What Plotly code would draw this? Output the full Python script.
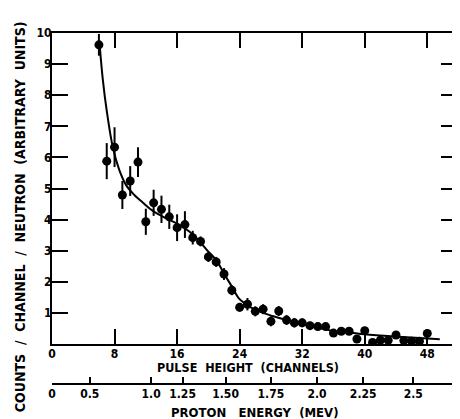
import plotly.graph_objects as go

# Measured data points (pulse height channel, counts/channel/neutron)
channels = list(range(6, 49))
counts = [9.62, 5.88, 6.33, 4.79, 5.24, 5.85, 3.93, 4.54, 4.33, 4.09,
          3.74, 3.84, 3.42, 3.30, 2.80, 2.64, 2.25, 1.73, 1.18, 1.28,
          1.05, 1.12, 0.73, 1.06, 0.77, 0.68, 0.68, 0.59, 0.56, 0.56,
          0.35, 0.41, 0.41, 0.16, 0.43, 0.05, 0.12, 0.12, 0.29, 0.11,
          0.09, 0.09, 0.34]
errors = [0.35, 0.58, 0.64, 0.45, 0.48, 0.48, 0.42, 0.42, 0.44, 0.39,
          0.43, 0.43, 0.22, 0.16, 0.16, 0.16, 0.19, 0.16, 0.14, 0.20,
          0.16, 0.16, 0.16, 0.16, 0.16, 0.15, 0.14, 0.12, 0.12, 0.12,
          0.12, 0.12, 0.12, 0.12, 0.12, 0.12, 0.12, 0.12, 0.12, 0.12,
          0.12, 0.12, 0.12]

# Smooth fitted curve
curve_x = [6.1, 6.5, 7.0, 7.8, 8.6, 9.5, 10.5, 11.6, 12.9, 14.6, 16.3, 17.6,
           18.8, 20.0, 21.0, 22.2, 23.0, 23.9, 24.8, 25.6, 27.0, 28.2, 30.0,
           31.6, 33.5, 35.8, 38.0, 40.0, 42.0, 44.3, 47.0, 49.6]
curve_y = [9.6, 8.5, 7.5, 6.3, 5.6, 5.1, 4.8, 4.55, 4.28, 4.04, 3.83, 3.61,
           3.32, 2.97, 2.70, 2.18, 1.85, 1.47, 1.28, 1.15, 1.0, 0.90, 0.77,
           0.67, 0.55, 0.43, 0.37, 0.31, 0.27, 0.23, 0.19, 0.15]

x_ticks = [0, 8, 16, 24, 32, 40, 48]
y_ticks = [1, 2, 3, 4, 5, 6, 7, 8, 9, 10]
# Proton energy scale: channel position and label
energy_pos = [0, 4.83, 12.68, 16.7, 22.2, 28.0, 33.9, 39.8, 46.2]
energy_labels = ["0", "0.5", "1.0", "1.25", "1.50", "1.75", "2.0", "2.25", "2.5"]

FONT = "DejaVu Sans Condensed, DejaVu Sans, sans-serif"
X_MAX = 51.8

fig = go.Figure()
fig.add_trace(go.Scatter(
    x=curve_x, y=curve_y, mode="lines",
    line=dict(color="black", width=2, shape="spline", smoothing=1.0),
    hoverinfo="skip", showlegend=False))
fig.add_trace(go.Scatter(
    x=channels, y=counts, mode="markers",
    marker=dict(color="black", size=9),
    error_y=dict(type="data", array=errors, color="black", thickness=2, width=0),
    showlegend=False))
# invisible trace for the energy axis
fig.add_trace(go.Scatter(x=[0, X_MAX], y=[0, 0], mode="markers",
                         marker=dict(opacity=0), xaxis="x2", yaxis="y2",
                         hoverinfo="skip", showlegend=False))

tickfont = dict(family=FONT, size=12, color="black", weight="bold")

fig.update_layout(
    width=452, height=411,
    margin=dict(l=44, r=1, t=25, b=36),
    paper_bgcolor="white", plot_bgcolor="white",
    xaxis=dict(range=[0, X_MAX], tickvals=x_ticks, ticks="inside", ticklen=15,
               tickwidth=2, tickcolor="black", showline=True, linewidth=2,
               linecolor="black", mirror="ticks", showgrid=False, zeroline=False,
               tickfont=tickfont, anchor="y", ticklabelstandoff=-2),
    yaxis=dict(domain=[0.1114, 1], range=[0, 10], tickvals=y_ticks, ticks="inside",
               ticklen=16, tickwidth=2, tickcolor="black", showline=True,
               linewidth=2, linecolor="black", mirror="ticks", showgrid=False,
               zeroline=False, tickfont=tickfont, ticklabelstandoff=-4),
    xaxis2=dict(range=[0, X_MAX], tickvals=energy_pos, ticktext=energy_labels,
                ticks="inside", ticklen=6, tickwidth=2, tickcolor="black",
                showline=True, linewidth=2, linecolor="black", showgrid=False,
                zeroline=False, anchor="y2", tickfont=tickfont,
                ticklabelstandoff=-1),
    yaxis2=dict(domain=[0, 0.05], range=[0, 1], visible=False),
    annotations=[
        dict(text="PULSE  HEIGHT  (CHANNELS)", xref="paper", yref="paper",
             x=0.2531, y=0.0429, xanchor="left", yanchor="middle", showarrow=False,
             font=dict(family=FONT, size=12.5, color="black", weight="bold")),
        dict(text="PROTON   ENERGY  (MEV)", xref="paper", yref="paper",
             x=0.2899, y=-0.0843, xanchor="left", yanchor="middle", showarrow=False,
             font=dict(family=FONT, size=13, color="black", weight="bold")),
        dict(text="COUNTS  /  CHANNEL  /  NEUTRON  (ARBITRARY  UNITS)",
             xref="paper", yref="paper", x=-0.0786, y=0.474, textangle=-90,
             xanchor="center", yanchor="middle", showarrow=False,
             font=dict(family=FONT, size=14, color="black", weight="bold")),
    ],
)

fig.write_html("out.html")
